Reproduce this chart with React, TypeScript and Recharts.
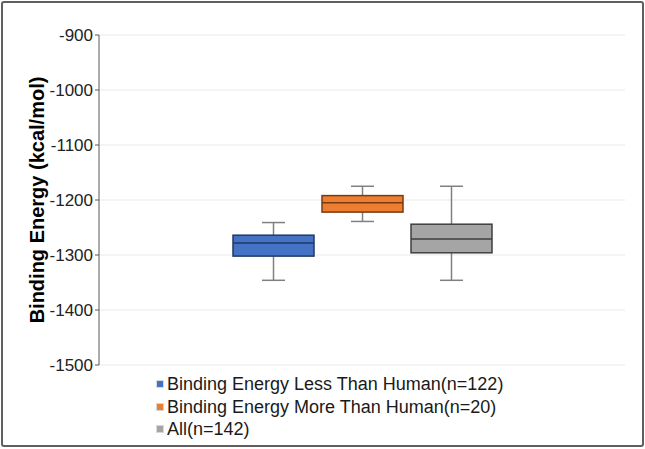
import { ComposedChart, Bar, XAxis, YAxis, CartesianGrid, Legend } from 'recharts'

const seriesNames = [
  'Binding Energy Less Than Human(n=122)',
  'Binding Energy More Than Human(n=20)',
  'All(n=142)',
]
const seriesKeys = ['less', 'more', 'all']
const fills = ['#4472C4', '#ED7D31', '#A5A5A5']
const edges = ['#1F3864', '#7A3A10', '#3F3F3F']

// box statistics (kcal/mol)
const whiskerLow = [-1346, -1239, -1346]
const q1 = [-1302, -1222, -1296]
const median = [-1278, -1205, -1271]
const q3 = [-1264, -1192, -1244]
const whiskerHigh = [-1241, -1175, -1175]

const yTicks = [-900, -1000, -1100, -1200, -1300, -1400, -1500]

const row: Record<string, any> = { group: 'Binding Energy' }
seriesKeys.forEach((k, i) => {
  row[k] = [whiskerLow[i], whiskerHigh[i]]
})
const data = [row]

const font = '"Liberation Sans", Arial, sans-serif'

const makeBox = (i: number) => (props: any) => {
  const { x, y, width, height } = props
  const top = Math.min(y, y + height)
  const h = Math.abs(height)
  const hi = whiskerHigh[i]
  const lo = whiskerLow[i]
  const py = (v: number) => top + ((hi - v) / (hi - lo)) * h
  const cx = x + width / 2
  const cap = 11.5
  return (
    <g>
      <line x1={cx} x2={cx} y1={py(hi)} y2={py(q3[i])} stroke="#808080" strokeWidth={1.5} />
      <line x1={cx} x2={cx} y1={py(q1[i])} y2={py(lo)} stroke="#808080" strokeWidth={1.5} />
      <line x1={cx - cap} x2={cx + cap} y1={py(hi)} y2={py(hi)} stroke="#808080" strokeWidth={1.5} />
      <line x1={cx - cap} x2={cx + cap} y1={py(lo)} y2={py(lo)} stroke="#808080" strokeWidth={1.5} />
      <rect
        x={x}
        y={py(q3[i])}
        width={width}
        height={py(q1[i]) - py(q3[i])}
        fill={fills[i]}
        stroke={edges[i]}
        strokeWidth={1.5}
      />
      <line x1={x} x2={x + width} y1={py(median[i])} y2={py(median[i])} stroke={edges[i]} strokeWidth={1.5} />
    </g>
  )
}

const renderLegend = () => (
  <div style={{ fontFamily: font, fontSize: 18, color: '#1a1a1a', lineHeight: '22.5px' }}>
    {seriesNames.map((n, i) => (
      <div key={n} style={{ display: 'flex', alignItems: 'center' }}>
        <span
          style={{
            display: 'inline-block',
            width: 6,
            height: 6,
            background: fills[i],
            border: '1px solid #d9d9d9',
            marginRight: 3,
          }}
        />
        {n}
      </div>
    ))}
  </div>
)

const renderYLabel = () => (
  <text
    x={37}
    y={200}
    transform="rotate(-90 37 200)"
    textAnchor="middle"
    dominantBaseline="central"
    fontFamily={font}
    fontWeight="bold"
    fontSize={20}
    fill="#000"
  >
    Binding Energy (kcal/mol)
  </text>
)

export default function App() {
  return (
    <div style={{ position: 'absolute', left: 0, top: 0, width: 645, height: 449, background: '#fff' }}>
      <div
        style={{
          position: 'absolute',
          left: 1,
          top: 1,
          width: 643,
          height: 446,
          boxSizing: 'border-box',
          border: '2px solid #5f5f5f',
          borderRadius: 3,
        }}
      />
      <div style={{ position: 'absolute', left: 0, top: 0 }}>
        <ComposedChart
          width={645}
          height={449}
          data={data}
          margin={{ top: 35, right: 20, left: 0, bottom: 84 }}
          barSize={81}
          barGap={8}
        >
          <CartesianGrid vertical={false} stroke="#e9e9e9" />
          <XAxis dataKey="group" hide />
          <YAxis
            width={99}
            domain={[-1500, -900]}
            ticks={yTicks}
            interval={0}
            tickSize={4}
            tickMargin={2}
            tick={{ fontSize: 17, fill: '#222', fontFamily: font }}
            stroke="#595959"
            label={{ content: renderYLabel }}
          />
          <Legend
            layout="vertical"
            verticalAlign="middle"
            align="center"
            content={renderLegend}
            wrapperStyle={{ left: 156, top: 373, width: 420 }}
          />
          {seriesKeys.map((k, i) => (
            <Bar
              key={k}
              dataKey={k}
              name={seriesNames[i]}
              fill={fills[i]}
              shape={makeBox(i)}
              isAnimationActive={false}
            />
          ))}
        </ComposedChart>
      </div>
    </div>
  )
}
